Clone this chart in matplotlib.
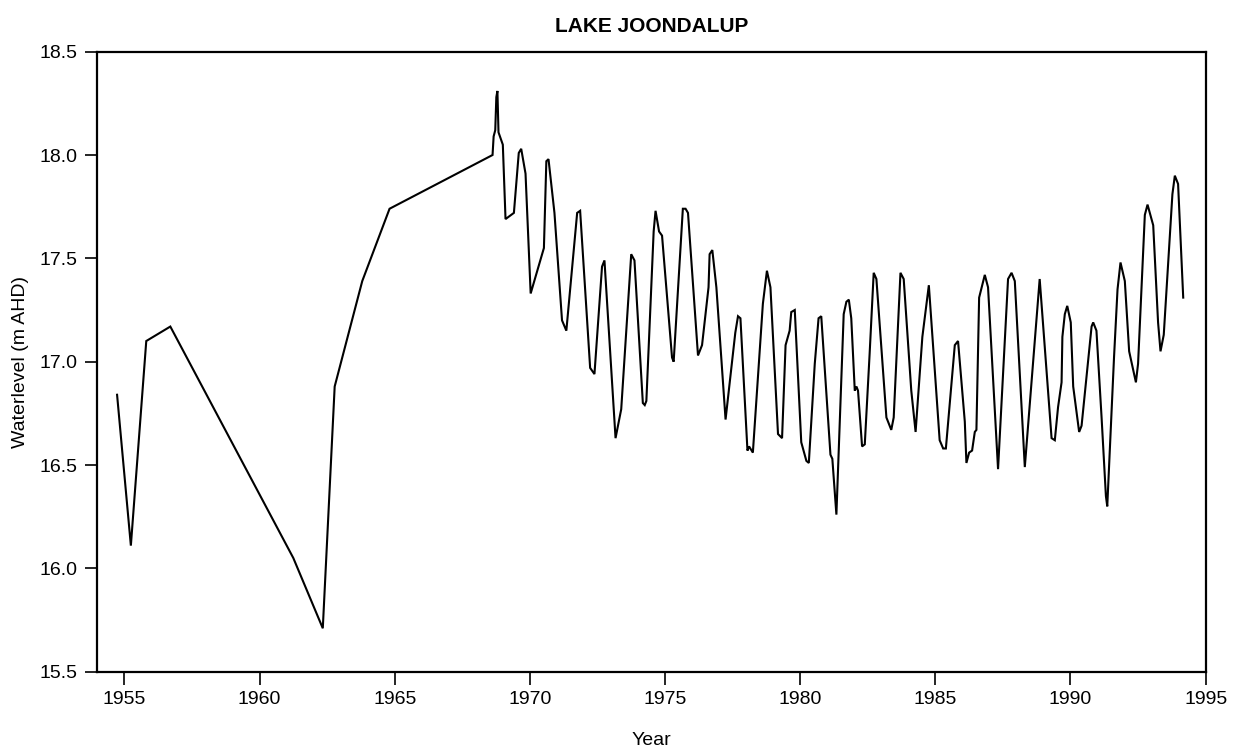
import matplotlib
matplotlib.use("Agg")
import matplotlib.pyplot as plt

plt.rcParams['font.family'] = ['Liberation Sans', 'DejaVu Sans']

title = "LAKE JOONDALUP"
x_label = "Year"
y_label = "Waterlevel (m AHD)"

years = [
    1954.73, 1955.24, 1955.81, 1956.70, 1961.25, 1962.34, 1962.78, 1963.80, 1964.81,
    1968.62, 1968.66, 1968.72, 1968.76, 1968.80, 1968.84, 1969.00, 1969.10, 1969.41,
    1969.59, 1969.68, 1969.84, 1970.03, 1970.52, 1970.61, 1970.69, 1970.91, 1971.19,
    1971.35, 1971.75, 1971.86, 1972.23, 1972.39, 1972.67, 1972.76, 1973.17, 1973.38,
    1973.75, 1973.87, 1974.18, 1974.25, 1974.31, 1974.58, 1974.65, 1974.78, 1974.89,
    1975.26, 1975.32, 1975.66, 1975.76, 1975.85, 1976.22, 1976.37, 1976.61, 1976.65,
    1976.75, 1976.90, 1977.24, 1977.60, 1977.70, 1977.79, 1978.05, 1978.11, 1978.25,
    1978.62, 1978.77, 1978.90, 1979.18, 1979.33, 1979.46, 1979.61, 1979.67, 1979.80,
    1980.04, 1980.23, 1980.32, 1980.54, 1980.68, 1980.78, 1981.12, 1981.19, 1981.34,
    1981.61, 1981.71, 1981.80, 1981.89, 1982.02, 1982.08, 1982.14, 1982.29, 1982.39,
    1982.57, 1982.72, 1982.82, 1983.19, 1983.37, 1983.46, 1983.71, 1983.83, 1984.11,
    1984.27, 1984.52, 1984.76, 1985.16, 1985.29, 1985.39, 1985.72, 1985.84, 1986.09,
    1986.15, 1986.25, 1986.36, 1986.46, 1986.52, 1986.62, 1986.83, 1986.95, 1987.32,
    1987.69, 1987.82, 1987.94, 1988.31, 1988.86, 1989.30, 1989.42, 1989.54, 1989.67,
    1989.70, 1989.79, 1989.88, 1990.01, 1990.10, 1990.32, 1990.41, 1990.78, 1990.84,
    1990.96, 1991.15, 1991.31, 1991.36, 1991.61, 1991.74, 1991.85, 1992.01, 1992.17,
    1992.42, 1992.50, 1992.75, 1992.85, 1993.06, 1993.24, 1993.33, 1993.45, 1993.77,
    1993.86, 1993.98, 1994.17,
]

waterlevel = [
    16.84, 16.11, 17.10, 17.17, 16.05, 15.71, 16.88, 17.39, 17.74,
    18.00, 18.09, 18.12, 18.28, 18.31, 18.11, 18.05, 17.69, 17.72,
    18.01, 18.03, 17.91, 17.33, 17.55, 17.97, 17.98, 17.72, 17.20,
    17.15, 17.72, 17.73, 16.97, 16.94, 17.46, 17.49, 16.63, 16.77,
    17.52, 17.49, 16.80, 16.79, 16.81, 17.63, 17.73, 17.63, 17.61,
    17.02, 17.00, 17.74, 17.74, 17.72, 17.03, 17.08, 17.36, 17.52,
    17.54, 17.36, 16.72, 17.14, 17.22, 17.21, 16.57, 16.59, 16.56,
    17.28, 17.44, 17.36, 16.65, 16.63, 17.08, 17.15, 17.24, 17.25,
    16.61, 16.52, 16.51, 16.99, 17.21, 17.22, 16.55, 16.53, 16.26,
    17.23, 17.29, 17.30, 17.21, 16.86, 16.88, 16.86, 16.59, 16.60,
    17.04, 17.43, 17.40, 16.73, 16.67, 16.73, 17.43, 17.40, 16.86,
    16.66, 17.12, 17.37, 16.62, 16.58, 16.58, 17.08, 17.10, 16.71,
    16.51, 16.56, 16.57, 16.66, 16.67, 17.31, 17.42, 17.36, 16.48,
    17.40, 17.43, 17.39, 16.49, 17.40, 16.63, 16.62, 16.78, 16.90,
    17.12, 17.23, 17.27, 17.19, 16.88, 16.66, 16.69, 17.17, 17.19,
    17.15, 16.73, 16.35, 16.30, 17.02, 17.35, 17.48, 17.39, 17.05,
    16.90, 16.99, 17.71, 17.76, 17.66, 17.19, 17.05, 17.13, 17.81,
    17.90, 17.86, 17.31,
]

x_ticks = [1955, 1960, 1965, 1970, 1975, 1980, 1985, 1990, 1995]
y_ticks = [15.5, 16.0, 16.5, 17.0, 17.5, 18.0, 18.5]

fig = plt.figure(figsize=(12.4, 7.51), dpi=100)
ax = fig.add_axes([0.0785, 0.1056, 0.9723 - 0.0785, 0.9312 - 0.1056])

ax.plot(years, waterlevel, color='black', linewidth=1.5, solid_joinstyle='miter')

ax.set_xlim(1954, 1995)
ax.set_ylim(15.5, 18.5)
ax.set_xticks(x_ticks)
ax.set_yticks(y_ticks)
ax.set_xticklabels([str(t) for t in x_ticks])
ax.set_yticklabels([f"{t:.1f}" for t in y_ticks])

ax.tick_params(axis='both', direction='out', length=9, width=1.2,
               labelsize=14, pad=5, color='black')
for sp in ax.spines.values():
    sp.set_linewidth(1.6)
    sp.set_color('black')

ax.set_title(title, fontsize=15, fontweight='bold', pad=14)
ax.set_xlabel(x_label, fontsize=14, labelpad=17)
ax.set_ylabel(y_label, fontsize=14, labelpad=8)

fig.savefig("out.png", dpi=100, facecolor='white')
